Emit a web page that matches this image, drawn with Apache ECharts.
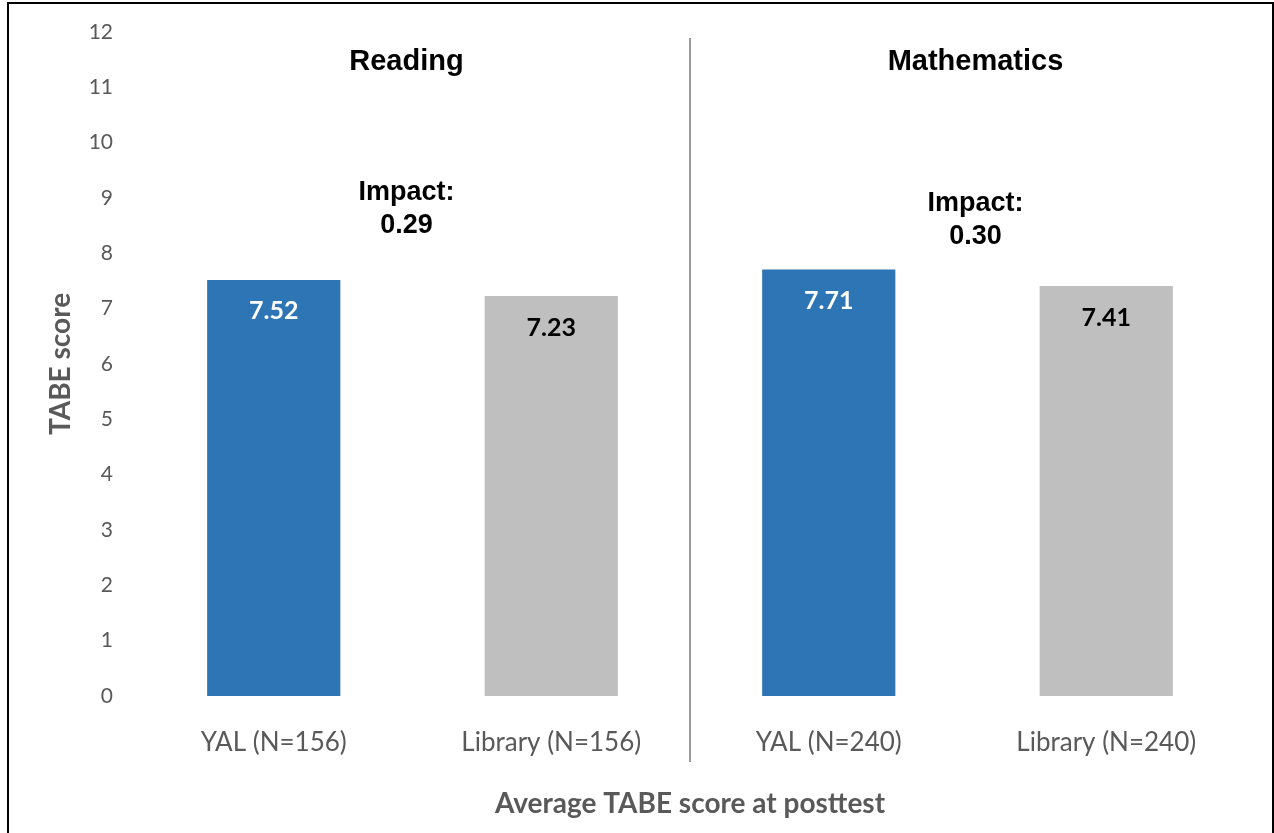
<!DOCTYPE html>
<html>
<head>
<meta charset="utf-8">
<script src="https://cdn.jsdelivr.net/npm/echarts@6/dist/echarts.min.js"></script>
<style>
html,body{margin:0;padding:0;background:#fff;}
#main{width:1274px;height:833px;}
</style>
</head>
<body>
<div id="main"></div>
<script>
const categories = ['YAL (N=156)', 'Library (N=156)', 'YAL (N=240)', 'Library (N=240)'];
const scores = [7.52, 7.23, 7.71, 7.41];
const groups = ['YAL', 'Library', 'YAL', 'Library'];
const panelTitles = ['Reading', 'Mathematics'];
const impacts = ['0.29', '0.30'];
const yTicks = [0, 12, 1];

const groupColor = { YAL: '#2E75B6', Library: '#BFBFBF' };
const groupLabel = { YAL: '#FFFFFF', Library: '#000000' };

const chart = echarts.init(document.getElementById('main'));
const grid = { left: 135, right: 29, top: 32, bottom: 137 };

chart.setOption({
  animation: false,
  backgroundColor: '#ffffff',
  grid: grid,
  xAxis: {
    type: 'category',
    data: categories,
    axisLine: { show: false },
    axisTick: { show: false },
    axisLabel: { color: '#595959', fontFamily: 'Lato', fontSize: 26, margin: 34 },
    name: 'Average TABE score at posttest',
    nameLocation: 'middle',
    nameGap: 94,
    nameTextStyle: { color: '#595959', fontFamily: 'Lato', fontWeight: 'bold', fontSize: 28 }
  },
  yAxis: {
    type: 'value',
    min: yTicks[0], max: yTicks[1], interval: yTicks[2],
    axisLine: { show: false },
    axisTick: { show: false },
    splitLine: { show: false },
    axisLabel: { color: '#595959', fontFamily: 'Lato', fontSize: 21, margin: 22 },
    name: 'TABE score',
    nameLocation: 'middle',
    nameGap: 60,
    nameTextStyle: { color: '#595959', fontFamily: 'Lato', fontWeight: 'bold', fontSize: 28 }
  },
  series: [{
    type: 'bar',
    barWidth: '48%',
    data: scores.map((v, i) => ({
      value: v,
      itemStyle: { color: groupColor[groups[i]] },
      label: { color: groupLabel[groups[i]] }
    })),
    label: {
      show: true,
      position: 'insideTop',
      distance: 19,
      fontFamily: 'Lato',
      fontWeight: 'bold',
      fontSize: 25,
      formatter: p => p.value.toFixed(2)
    }
  }]
});

// annotations positioned through the chart's own scales
const titleStyle = { fill: '#000', font: 'bold 29px "Liberation Sans", Arial', textAlign: 'center', textVerticalAlign: 'middle' };
const impactStyle = { fill: '#000', font: 'bold 27px "Liberation Sans", Arial', textAlign: 'center', textVerticalAlign: 'middle' };
const els = [];
const px = i => chart.convertToPixel({ xAxisIndex: 0 }, i);
const divX = (px(1) + px(2)) / 2;
els.push({ type: 'line', shape: { x1: divX, y1: 38, x2: divX, y2: 762 }, style: { stroke: '#595959', lineWidth: 1.2 } });
const shifts = [-6, 8];
[[0, 1], [2, 3]].forEach((pair, k) => {
  const x = (px(pair[0]) + px(pair[1])) / 2 + shifts[k];
  els.push({ type: 'text', style: Object.assign({ x: x, y: 62, text: panelTitles[k] }, titleStyle) });
  const yTop = k === 0 ? 193 : 204;
  els.push({ type: 'text', style: Object.assign({ x: x, y: yTop, text: 'Impact:' }, impactStyle) });
  els.push({ type: 'text', style: Object.assign({ x: x, y: yTop + 33, text: impacts[k] }, impactStyle) });
});
els.push({ type: 'rect', shape: { x: 8, y: 3, width: 1265, height: 900 }, style: { fill: 'none', stroke: '#000', lineWidth: 2 } });
chart.setOption({ graphic: els });
</script>
</body>
</html>
